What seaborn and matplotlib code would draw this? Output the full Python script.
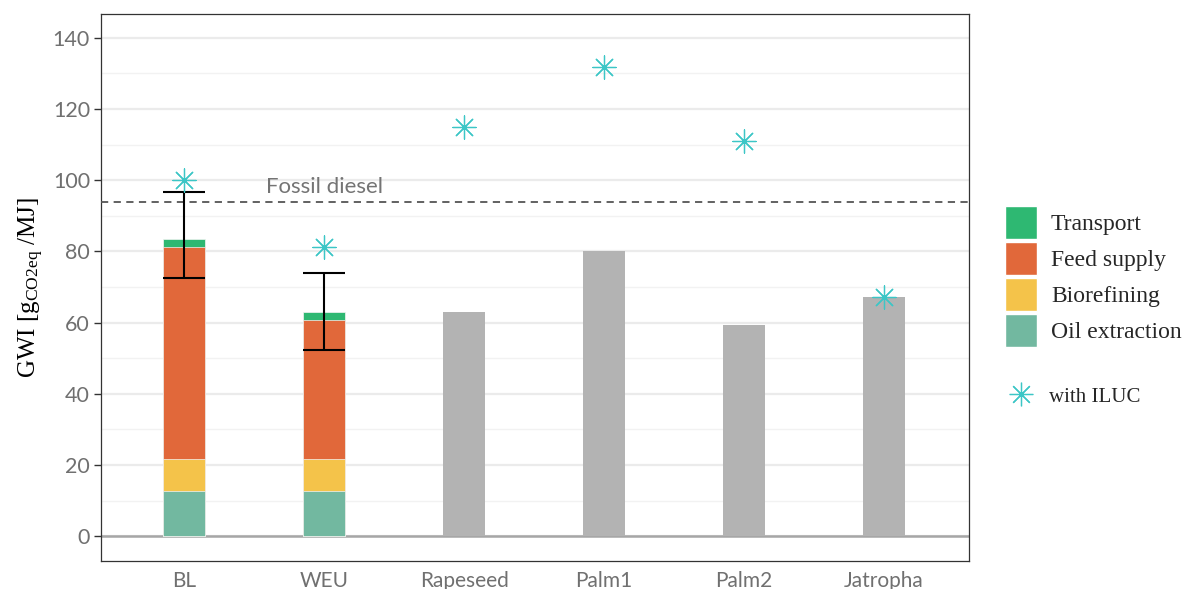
import numpy as np
import pandas as pd
import matplotlib
matplotlib.use("Agg")
import matplotlib.pyplot as plt
import seaborn as sns
from matplotlib.patches import Patch
from matplotlib.lines import Line2D

# Pathways shown on the x axis
categories = ["BL", "WEU", "Rapeseed", "Palm1", "Palm2", "Jatropha"]

# Stage contributions for the two modelled cases (g CO2eq / MJ)
stacked_cases = ["BL", "WEU"]
oil_extraction = [12.7, 12.7]
biorefining = [8.9, 8.9]
feed_supply = [59.6, 39.1]
transport = [2.3, 2.3]

# Uncertainty range for the modelled cases
err_low = [72.5, 52.3]
err_high = [96.7, 73.9]

# Literature pathways (totals only)
lit_cases = ["Rapeseed", "Palm1", "Palm2", "Jatropha"]
lit_values = [63.0, 80.1, 59.3, 67.2]

# Totals including indirect land use change
iluc_values = [100.0, 81.2, 115.0, 131.9, 111.0, 67.2]

fossil_diesel = 94.0

stage_names = ["Transport", "Feed supply", "Biorefining", "Oil extraction"]
stage_colors = {"Transport": "#2EB872", "Feed supply": "#E1683A",
                "Biorefining": "#F4C34A", "Oil extraction": "#72B8A0"}
grey_bar = "#B3B3B3"
iluc_color = "#3CC6C6"
tick_grey = "#707070"

sns.set_theme(style="white")
plt.rcParams["font.family"] = ["Lato", "DejaVu Sans"]
plt.rcParams["mathtext.fontset"] = "custom"
plt.rcParams["mathtext.rm"] = "Liberation Serif"
plt.rcParams["mathtext.it"] = "Liberation Serif:italic"

fig = plt.figure(figsize=(11.86, 5.89), dpi=100)
ax = fig.add_axes([0.0852, 0.0475, 0.7319, 0.9287])

# cumulative heights so that each layer is drawn over the one above it
stages_bottom_up = [oil_extraction, biorefining, feed_supply, transport]
cum = np.cumsum(np.array(stages_bottom_up), axis=0)
cum_by_name = {"Oil extraction": cum[0], "Biorefining": cum[1],
               "Feed supply": cum[2], "Transport": cum[3]}

for name in stage_names:  # top layer first
    df = pd.DataFrame({"case": stacked_cases, "value": cum_by_name[name]})
    sns.barplot(data=df, x="case", y="value", order=categories,
                color=stage_colors[name], saturation=1, width=0.3,
                edgecolor="#F4F4F4", linewidth=0.5, ax=ax, zorder=3)

lit_df = pd.DataFrame({"case": lit_cases, "value": lit_values})
sns.barplot(data=lit_df, x="case", y="value", order=categories,
            color=grey_bar, saturation=1, width=0.3, linewidth=0,
            ax=ax, zorder=3)

# error bars on the modelled cases
pos = {c: i for i, c in enumerate(categories)}
xs = [pos[c] for c in stacked_cases]
mid = [(lo + hi) / 2 for lo, hi in zip(err_low, err_high)]
half = [(hi - lo) / 2 for lo, hi in zip(err_low, err_high)]
ax.errorbar(xs, mid, yerr=half, fmt="none", ecolor="black",
            elinewidth=1.5, capsize=15, capthick=1.5, zorder=5)

# ILUC markers
iluc_df = pd.DataFrame({"case": categories, "value": iluc_values,
                        "x": [pos[c] for c in categories]})
sns.scatterplot(data=iluc_df, x="x", y="value", marker=(8, 2, 0), s=280,
                color=iluc_color, linewidth=0.9, edgecolor=iluc_color,
                ax=ax, zorder=6, legend=False)

# fossil reference
ax.axhline(fossil_diesel, color="#555555", linestyle=(0, (4, 3)),
           linewidth=1.3, zorder=4)
ax.text(1.0, fossil_diesel + 1.2, "Fossil diesel", ha="center", va="bottom",
        color="#747474", fontsize=16, zorder=4)

# axes styling
ax.set_xlim(-0.593, 5.607)
ax.set_ylim(-7.0, 146.7)
ax.set_yticks(np.arange(0, 141, 20))
ax.set_yticks(np.arange(10, 141, 20), minor=True)
ax.grid(axis="y", which="major", color="#EBEBEB", linewidth=1.6, zorder=0)
ax.grid(axis="y", which="minor", color="#F2F2F2", linewidth=1.0, zorder=0)
ax.grid(axis="x", visible=False)
ax.set_axisbelow(True)
ax.axhline(0, color="#A6A6A6", linewidth=1.8, zorder=2)

for s in ax.spines.values():
    s.set_color("#333333")
    s.set_linewidth(0.9)

ax.tick_params(axis="y", which="major", length=5, width=1, color="#333333",
               labelsize=15.5, labelcolor=tick_grey, pad=3, left=True)
ax.tick_params(axis="y", which="minor", length=0)
ax.tick_params(axis="x", length=0, labelsize=15, labelcolor=tick_grey, pad=7)
ax.set_xlabel("")
ax.set_ylabel(r"GWI [g$_{\mathrm{CO2eq}}$ /MJ]", family="Liberation Serif",
              fontsize=18, color="black", labelpad=5)

# legends
stage_handles = [Patch(facecolor=stage_colors[n], edgecolor="white", label=n)
                 for n in stage_names]
fig.legend(handles=stage_handles, loc="upper left",
           bbox_to_anchor=(0.8395, 0.667), frameon=False,
           prop={"family": "Liberation Serif", "size": 17},
           handlelength=1.355, handleheight=1.777, labelspacing=0.124,
           handletextpad=0.59, borderaxespad=0)
star_handle = [Line2D([], [], linestyle="none", marker=(8, 2, 0), markersize=17,
                      color=iluc_color, markeredgewidth=0.9, label="with ILUC")]
fig.legend(handles=star_handle, loc="upper left",
           bbox_to_anchor=(0.843, 0.357), frameon=False,
           prop={"family": "Liberation Serif", "size": 15},
           handlelength=1.2, handletextpad=0.75, borderaxespad=0)

fig.savefig("out.png", dpi=100)
